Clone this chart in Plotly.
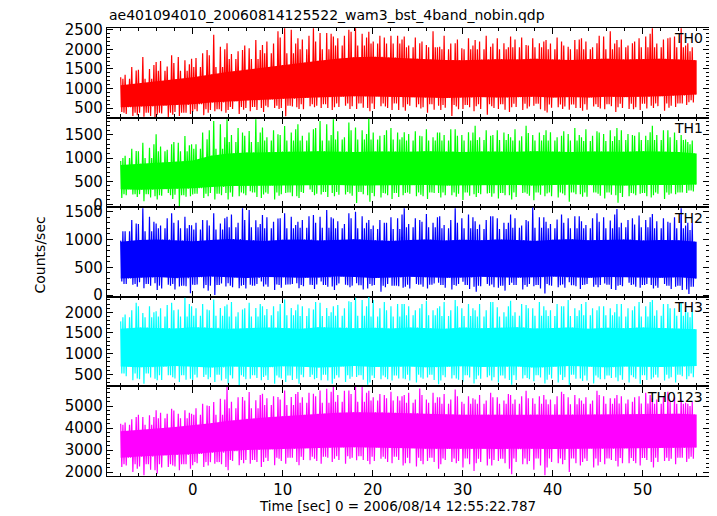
import numpy as np
import plotly.graph_objects as go
from plotly.subplots import make_subplots

TITLE = "ae401094010_20060814125522_wam3_bst_4band_nobin.qdp"
X_TITLE = "Time [sec] 0 = 2006/08/14 12:55:22.787"
Y_TITLE = "Counts/sec"
BANDS = ["TH0", "TH1", "TH2", "TH3", "TH0123"]
COLORS = ["#ff0000", "#00ff00", "#0000ff", "#00ffff", "#ff00ff"]

# time grids (sec): 65 one-second bins from -8 to 56, 2-s core bins, 4-s fringe bins
T_START, T_END, N_BIN = -8.0, 56.0, 65
T_CORE = np.arange(-8, 57, 2)

# ---------------- TH0 ----------------
TH0_PEAK = [1285, 1460, 1805, 1500, 1675, 1850, 1805, 1720, 1760, 1980, 2370, 2065, 2155, 1980, 2025, 2240,
            2110, 2460, 2540, 2500, 2285, 2540, 2415, 2415, 2330, 2500, 2540,
            2400, 2450, 2300, 2350, 2350,
            2330, 2155, 2110, 2460, 2065, 2155, 2025, 2285, 2240, 2065, 2285, 2155, 2330, 2110, 2285, 2155,
            2240, 2200, 2065, 2240, 2285, 2155, 2330, 2460, 2240, 2155, 2285, 2330, 2540, 2285, 2330, 2540, 2155]
TH0_TROUGH = [400, 300, 280, 260, 330, 270, 300, 350, 400, 320, 420, 380, 450, 350, 420, 500, 400, 500, 290,
              520, 480, 550, 500, 450, 520, 560, 480,
              500, 420, 550, 450, 520,
              430, 520, 380, 560, 450, 300, 480, 420, 550, 330, 480, 400, 520, 450, 560, 430, 390, 520, 460,
              500, 430, 540, 470, 400, 520, 480, 450, 560, 500, 430, 530, 580, 650]
TH0_SUB_HI = [1350, 1550, 1480, 1600, 1700, 1560, 1650, 1620,
              1780, 1900, 1850, 2000, 1880, 1950, 2100, 1980, 2200, 2150,
              2300, 2150, 2250, 2350, 2200, 2400, 2280, 2350, 2450, 2300,
              2200, 2350, 2150, 2250, 2100, 2300, 2200, 2050, 2350, 2150,
              2250, 2100, 2200, 2350, 2150, 2050, 2250, 2300, 2100, 2200,
              2150, 2300, 2100, 2250, 2200, 2050, 2350, 2150, 2250, 2100,
              2200, 2400, 2150, 2250, 2300, 2100, 2050]
TH0_SUB_LO = [350, 320, 380, 300, 360, 330, 400, 380,
              420, 380, 450, 420, 480, 460, 500, 450, 520, 480,
              500, 540, 470, 520, 560, 500, 530, 480, 550, 510,
              480, 540, 500, 450, 560, 490, 520, 460, 510, 540,
              470, 520, 480, 550, 500, 460, 530, 490, 540, 470,
              510, 480, 540, 500, 460, 530, 490, 550, 500, 470,
              520, 490, 550, 510, 560, 620, 640]
TH0_CORE_LO = [520, 540, 560, 580, 600, 640, 670, 700, 720, 740, 760, 780, 790, 800, 800, 790, 780, 770, 760,
               770, 780, 770, 780, 790, 770, 780, 770, 790, 780, 790, 800, 820, 850]
TH0_CORE_HI = [1080, 1130, 1180, 1230, 1290, 1360, 1430, 1480, 1540, 1600, 1660, 1710, 1760, 1800, 1810, 1790,
               1760, 1740, 1730, 1720, 1740, 1750, 1740, 1760, 1740, 1730, 1750, 1760, 1740, 1750, 1760, 1740, 1720]
TH0_FR_LO = [380, 380, 470, 530, 560, 600, 620, 620, 600, 580, 600, 610, 590, 600, 610, 620, 700]
TH0_FR_HI = [1250, 1450, 1550, 1750, 1900, 2000, 2100, 2150, 2050, 2000, 2000, 2050, 2000, 2000, 2050, 2050, 1950]

# ---------------- TH1 ----------------
TH1_PEAK = [936, 1152, 1333, 1225, 1513, 1297, 1333, 1477, 1297, 1405, 1800, 1730, 1838, 1550, 1585, 1838,
            1658, 1513, 1694, 1550, 1730, 1622, 1800, 1730, 1838, 1766, 1658,
            1600, 1850, 1500, 1650, 1550,
            1560, 1480, 1620, 1450, 1550, 1620, 1500, 1560, 1700, 1480, 1600, 1550, 1450, 1700, 1500, 1550,
            1600, 1480, 1520, 1650, 1450, 1580, 1520, 1600, 1650, 1500, 1560, 1480, 1700, 1600, 1550, 1500, 1350]
TH1_TROUGH = [142, 215, 70, 178, 106, 250, -30, 178, 215, 142, 106, 250, 106, 178, 287, 142, 215, 106, 250,
              178, 142, 323, 215, 250, 178, 215, 35,
              200, 60, 150, 120, 200,
              250, 180, 120, 250, 150, 200, 100, 220, 160, 240, 130, 200, 110, 250, 90, 180, 240, 150, 60,
              220, 170, 260, 130, 200, 40, 180, 230, 150, 200, 120, 220, 250, 300]
TH1_SUB_HI = [1050, 1200, 1150, 1300, 1250, 1180, 1350, 1280,
              1300, 1550, 1600, 1450, 1500, 1650, 1480, 1550, 1450, 1600,
              1500, 1620, 1480, 1550, 1650, 1500, 1580, 1450, 1600, 1520,
              1550, 1480, 1600, 1450, 1520, 1580, 1470, 1550, 1500, 1620,
              1480, 1550, 1450, 1600, 1500, 1520, 1620, 1470, 1540, 1500,
              1560, 1450, 1580, 1500, 1620, 1480, 1550, 1470, 1600, 1520,
              1480, 1560, 1500, 1600, 1450, 1400, 1380]
TH1_SUB_LO = [200, 160, 220, 150, 190, 120, 210, 170,
              230, 180, 250, 200, 170, 240, 200, 160, 230, 190,
              220, 180, 250, 200, 230, 160, 210, 240, 190, 220,
              180, 240, 200, 160, 230, 210, 180, 250, 200, 170,
              230, 190, 220, 170, 240, 200, 160, 230, 190, 210,
              180, 240, 200, 220, 170, 230, 190, 210, 160, 240,
              200, 180, 230, 210, 240, 260, 280]
TH1_CORE_LO = [330, 320, 330, 340, 350, 380, 400, 410, 410, 420, 420, 415, 420, 410, 420, 425, 415, 420, 410,
               420, 425, 415, 420, 410, 420, 425, 415, 420, 410, 420, 425, 420, 430]
TH1_CORE_HI = [850, 880, 900, 920, 950, 1050, 1100, 1120, 1130, 1140, 1135, 1150, 1140, 1130, 1145, 1140, 1135,
               1150, 1140, 1130, 1145, 1140, 1135, 1150, 1140, 1130, 1145, 1140, 1135, 1150, 1140, 1130, 1100]
TH1_FR_LO = [220, 200, 230, 260, 260, 270, 270, 250, 260, 260, 250, 260, 260, 260, 250, 260, 300]
TH1_FR_HI = [1000, 1150, 1200, 1350, 1380, 1380, 1400, 1400, 1380, 1380, 1390, 1380, 1380, 1370, 1390, 1390, 1300]

# ---------------- TH2 ----------------
TH2_PEAK = [980, 1287, 1563, 1410, 1287, 1470, 1348, 1410, 1256, 1348, 1470, 1287, 1410, 1563, 1532, 1348,
            1440, 1379, 1470, 1410, 1318, 1440, 1410, 1532, 1379, 1470, 1501,
            1420, 1350, 1300, 1400, 1380,
            1560, 1350, 1460, 1300, 1420, 1560, 1380, 1450, 1330, 1420, 1380, 1300, 1450, 1350, 1580, 1400,
            1320, 1450, 1380, 1420, 1330, 1470, 1400, 1340, 1550, 1380, 1430, 1350, 1460, 1320, 1400, 1560, 1300]
TH2_TROUGH = [245, 184, 123, 215, 92, 184, 153, 31, 184, 123, 0, 153, 215, 123, 184, 245, 153, 92, 184, 215,
              123, 184, 245, 153, 92, 184, 215,
              120, 200, 60, 170, 130,
              150, 200, 120, 220, 180, 100, 240, 150, 60, 200, 130, 180, 220, 100, 160, 30, 200, 140, 230,
              110, 180, 150, 210, 90, 170, 220, 130, 180, 120, 200, 150, 100, 20]
TH2_SUB_HI = [1150, 1350, 1280, 1320, 1250, 1380, 1300, 1260,
              1300, 1350, 1250, 1380, 1450, 1300, 1350, 1280, 1400, 1320,
              1380, 1260, 1350, 1420, 1300, 1400, 1330, 1280, 1380, 1300,
              1250, 1350, 1300, 1450, 1280, 1380, 1320, 1400, 1260, 1350,
              1300, 1400, 1270, 1350, 1420, 1300, 1380, 1250, 1330, 1400,
              1280, 1360, 1300, 1420, 1260, 1380, 1320, 1450, 1300, 1350,
              1270, 1400, 1330, 1380, 1300, 1250, 1300]
TH2_SUB_LO = [200, 150, 230, 170, 120, 200, 100, 160,
              190, 80, 170, 210, 140, 180, 120, 200, 150, 180,
              130, 200, 160, 110, 190, 150, 210, 140, 170, 100,
              180, 140, 200, 160, 120, 190, 150, 210, 130, 170,
              200, 110, 160, 190, 140, 80, 180, 150, 200, 120,
              170, 190, 130, 160, 200, 140, 180, 110, 160, 190,
              150, 200, 130, 170, 110, 90, 150]
TH2_CORE_LO = [300, 315, 325, 305, 320, 335, 318, 308, 326, 322, 312, 318, 334, 324, 306, 318, 330, 322, 312,
               316, 328, 320, 314, 322, 332, 318, 310, 324, 330, 318, 312, 320, 300]
TH2_CORE_HI = [960, 990, 1000, 980, 970, 990, 1010, 985, 975, 995, 1000, 980, 990, 1005, 985, 975, 990, 1000,
               980, 995, 985, 1000, 990, 975, 995, 1005, 985, 990, 1000, 980, 990, 985, 960]
TH2_FR_LO = [200, 170, 180, 170, 190, 180, 175, 170, 185, 180, 170, 180, 175, 185, 180, 170, 150]
TH2_FR_HI = [1150, 1200, 1180, 1220, 1200, 1210, 1200, 1190, 1220, 1200, 1190, 1210, 1200, 1200, 1220, 1200, 1170]

# ---------------- TH3 ----------------
TH3_PEAK = [1781, 2229, 1985, 2148, 2025, 2229, 2066, 2352, 2148, 2066, 2311, 2107, 2188, 2066, 2229, 2107,
            2148, 2025, 2311, 2107, 2188, 2066, 2229, 2107, 2148, 2270, 2352,
            2300, 2370, 2250, 2150, 2200,
            2200, 2100, 2280, 2050, 2150, 2300, 2100, 2200, 2050, 2250, 2120, 2000, 2280, 2180, 2100, 2250,
            2050, 2150, 2300, 2100, 2200, 2050, 2150, 2100, 2200, 2050, 2250, 2150, 2300, 2200, 2100, 2250, 2000]
TH3_TROUGH = [517, 354, 273, 395, 354, 477, 314, 395, 354, 436, 314, 395, 273, 232, 395, 354, 436, 273, 314,
              395, 273, 436, 354, 273, 395, 314, 436,
              250, 300, 380, 350, 400,
              380, 300, 420, 260, 350, 400, 320, 280, 380, 430, 300, 360, 250, 400, 330, 280, 370, 300, 250,
              400, 340, 280, 380, 420, 330, 300, 270, 380, 420, 350, 300, 380, 450]
TH3_SUB_HI = [1950, 2050, 2150, 2000, 2100, 2180, 2050, 2200,
              2100, 2200, 2050, 2150, 2250, 2000, 2100, 2200, 2080, 2150,
              2200, 2050, 2150, 2100, 2250, 2000, 2180, 2100, 2250, 2150,
              2300, 2100, 2050, 2200, 2150, 2050, 2200, 2100, 2250, 2050,
              2150, 2100, 2200, 2050, 2250, 2150, 2000, 2200, 2100, 2150,
              2050, 2200, 2150, 2050, 2250, 2100, 2150, 2000, 2200, 2100,
              2150, 2250, 2050, 2200, 2100, 2050, 2100]
TH3_SUB_LO = [450, 400, 380, 420, 360, 430, 400, 370,
              420, 380, 430, 350, 400, 440, 380, 410, 360, 420,
              400, 360, 430, 380, 410, 350, 420, 390, 440, 370,
              410, 430, 380, 400, 350, 420, 390, 360, 430, 400,
              370, 420, 390, 350, 430, 400, 360, 410, 380, 420,
              400, 360, 430, 390, 350, 420, 380, 410, 370, 430,
              390, 360, 420, 400, 430, 450, 430]
TH3_CORE_LO = [690, 670, 680, 700, 675, 665, 690, 685, 670, 695, 680, 665, 690, 700, 675, 680, 690, 670, 685,
               695, 675, 680, 690, 665, 685, 700, 680, 670, 690, 685, 675, 690, 700]
TH3_CORE_HI = [1600, 1630, 1620, 1610, 1640, 1625, 1600, 1615, 1635, 1620, 1605, 1640, 1630, 1615, 1625, 1610,
               1635, 1620, 1600, 1630, 1615, 1625, 1640, 1610, 1620, 1635, 1605, 1625, 1615, 1630, 1620, 1610, 1590]
TH3_FR_LO = [520, 480, 490, 480, 470, 490, 480, 470, 490, 480, 470, 480, 490, 470, 480, 490, 520]
TH3_FR_HI = [1880, 1900, 1920, 1900, 1930, 1910, 1920, 1900, 1930, 1910, 1900, 1920, 1910, 1930, 1900, 1920, 1880]

# ---------------- TH0123 ----------------
TH0123_PEAK = [4200, 4500, 4500, 4577, 4804, 4880, 4652, 4804, 4652, 5031, 5183, 5334, 5865, 5410, 5637, 5259,
               5562, 5410, 5713, 5410, 5637, 5562, 5713, 5790, 5865, 5713, 5865,
               5865, 5700, 5500, 5650, 5450,
               5500, 5800, 5300, 5600, 5400, 5750, 5200, 5450, 5300, 5600, 5400, 5250, 5500, 5700, 5350, 5450,
               5300, 5650, 5400, 5500, 5250, 5700, 5450, 5350, 5500, 5200, 5450, 5600, 5350, 5650, 5400, 5300, 5100]
TH0123_TROUGH = [2230, 2000, 1850, 2077, 1925, 2230, 2077, 2153, 2304, 2230, 2380, 2230, 2077, 2304, 2380, 2230,
                 2456, 2304, 2380, 2456, 2304, 2532, 2380, 2456, 2608, 2380, 2532,
                 2500, 2350, 2600, 2400, 2300,
                 2400, 2250, 2500, 2150, 2350, 2450, 2200, 2050, 2400, 2300, 2500, 2150, 1900, 2350, 2100, 1850,
                 2200, 2400, 2000, 2300, 2450, 2200, 2350, 2500, 2250, 2400, 2300, 2450, 2200, 2500, 2350, 2450, 2600]
TH0123_SUB_HI = [4250, 4400, 4600, 4500, 4700, 4650, 4800, 4700,
                 4900, 5100, 5000, 5300, 5200, 5400, 5250, 5500, 5350, 5450,
                 5300, 5550, 5400, 5600, 5450, 5650, 5500, 5700, 5550, 5600,
                 5400, 5550, 5350, 5450, 5600, 5300, 5500, 5400, 5550, 5300,
                 5450, 5350, 5500, 5250, 5400, 5550, 5300, 5450, 5350, 5500,
                 5300, 5450, 5550, 5350, 5400, 5250, 5500, 5350, 5450, 5300,
                 5400, 5500, 5300, 5450, 5200, 5150, 5200]
TH0123_SUB_LO = [2300, 2150, 2250, 2100, 2200, 2300, 2250, 2350,
                 2400, 2300, 2450, 2350, 2500, 2400, 2550, 2450, 2500, 2600,
                 2500, 2650, 2550, 2600, 2500, 2650, 2550, 2600, 2650, 2550,
                 2500, 2600, 2450, 2550, 2400, 2500, 2350, 2450, 2550, 2400,
                 2500, 2350, 2450, 2300, 2550, 2400, 2450, 2350, 2500, 2300,
                 2450, 2350, 2550, 2400, 2500, 2300, 2450, 2550, 2400, 2500,
                 2400, 2550, 2450, 2500, 2600, 2650, 2600]
TH0123_CORE_LO = [2650, 2700, 2750, 2780, 2820, 2880, 2950, 3000, 3030, 3060, 3080, 3100, 3120, 3130, 3120, 3100,
                  3080, 3060, 3050, 3050, 3060, 3050, 3040, 3060, 3050, 3060, 3070, 3060, 3070, 3080, 3090, 3100, 3120]
TH0123_CORE_HI = [3850, 3900, 3980, 4050, 4120, 4220, 4330, 4420, 4480, 4540, 4600, 4650, 4700, 4720, 4720, 4700,
                  4670, 4640, 4620, 4600, 4610, 4600, 4590, 4610, 4600, 4610, 4620, 4610, 4620, 4630, 4640, 4650, 4620]
TH0123_FR_LO = [2350, 2350, 2450, 2550, 2650, 2700, 2720, 2700, 2650, 2620, 2600, 2620, 2610, 2620, 2640, 2650, 2700]
TH0123_FR_HI = [4150, 4450, 4600, 4900, 5050, 5150, 5200, 5250, 5150, 5100, 5100, 5100, 5080, 5100, 5120, 5100, 5000]

# axis settings per panel
Y_RANGES = [[257, 2545], [-58, 1874], [-31, 1581], [207, 2376], [1818, 5895]]
Y_DTICK = [500, 500, 500, 500, 1000]
Y_MINOR = [100, 100, 100, 100, 200]
X_RANGE = [-9.52, 57.37]

PANELS = [
    (TH0_PEAK, TH0_TROUGH, TH0_SUB_HI, TH0_SUB_LO, TH0_CORE_LO, TH0_CORE_HI, TH0_FR_LO, TH0_FR_HI),
    (TH1_PEAK, TH1_TROUGH, TH1_SUB_HI, TH1_SUB_LO, TH1_CORE_LO, TH1_CORE_HI, TH1_FR_LO, TH1_FR_HI),
    (TH2_PEAK, TH2_TROUGH, TH2_SUB_HI, TH2_SUB_LO, TH2_CORE_LO, TH2_CORE_HI, TH2_FR_LO, TH2_FR_HI),
    (TH3_PEAK, TH3_TROUGH, TH3_SUB_HI, TH3_SUB_LO, TH3_CORE_LO, TH3_CORE_HI, TH3_FR_LO, TH3_FR_HI),
    (TH0123_PEAK, TH0123_TROUGH, TH0123_SUB_HI, TH0123_SUB_LO, TH0123_CORE_LO, TH0123_CORE_HI,
     TH0123_FR_LO, TH0123_FR_HI),
]


def light_curve(peak, trough, sub_hi, sub_lo, core_lo, core_hi, fr_lo, fr_hi):
    """Path through the sampled highs/lows of every 1-s bin (8 samples per bin)."""
    width = (T_END - T_START) / N_BIN
    xs, ys = [], []
    for k in range(N_BIN):
        t0 = T_START + k * width
        c, f = k // 2, k // 4
        highs = [peak[k], fr_hi[f], sub_hi[k], core_hi[c]]
        lows = [core_lo[c], trough[k], fr_lo[f], sub_lo[k]]
        rh, rl = k % 4, (3 * k + 1) % 4
        highs = highs[rh:] + highs[:rh]
        lows = lows[rl:] + lows[:rl]
        for j in range(4):
            xs += [t0 + (2 * j) * width / 8, t0 + (2 * j + 1) * width / 8]
            ys += [highs[j], lows[j]]
    return np.array(xs), np.array(ys)


fig = make_subplots(rows=5, cols=1, shared_xaxes=True, vertical_spacing=0)

for i, (peak, trough, shi, slo, clo, chi, flo, fhi) in enumerate(PANELS):
    row = i + 1
    col = COLORS[i]
    # densest part of the band (where the samples overlap)
    fig.add_trace(go.Scatter(
        x=np.concatenate([T_CORE, T_CORE[::-1]]),
        y=np.concatenate([np.array(chi), np.array(clo)[::-1]]),
        fill="toself", fillcolor=col, line=dict(width=0),
        mode="lines", hoverinfo="skip", showlegend=False), row=row, col=1)
    xs, ys = light_curve(peak, trough, shi, slo, clo, chi, flo, fhi)
    fig.add_trace(go.Scatter(
        x=xs, y=ys, mode="lines", line=dict(color=col, width=1.2),
        hoverinfo="skip", showlegend=False), row=row, col=1)

    fig.update_yaxes(row=row, col=1, range=Y_RANGES[i], tick0=0, dtick=Y_DTICK[i],
                     ticks="inside", ticklen=6, tickwidth=1, tickcolor="black",
                     minor=dict(dtick=Y_MINOR[i], ticks="inside", ticklen=3, tickcolor="black"),
                     showline=True, linecolor="black", linewidth=1.3, mirror="ticks",
                     showgrid=False, zeroline=False, automargin=False,
                     tickfont=dict(family="DejaVu Sans", size=15, color="black"))
    fig.update_xaxes(row=row, col=1, range=X_RANGE, tick0=0, dtick=10,
                     ticks="inside", ticklen=6, tickwidth=1, tickcolor="black",
                     minor=dict(dtick=2, ticks="inside", ticklen=3, tickcolor="black"),
                     showline=True, linecolor="black", linewidth=1.3, mirror="ticks",
                     showgrid=False, zeroline=False, automargin=False,
                     tickfont=dict(family="DejaVu Sans", size=15, color="black"))

    yref = "y domain" if row == 1 else f"y{row} domain"
    fig.add_annotation(text=BANDS[i], xref="paper", yref=yref, x=0.9934, y=0.885,
                       xanchor="right", yanchor="middle", showarrow=False,
                       font=dict(family="DejaVu Sans", size=14, color="black"))

fig.add_annotation(text=TITLE, xref="paper", yref="paper", x=0.0, y=1.03,
                   xanchor="left", yanchor="middle", showarrow=False,
                   font=dict(family="DejaVu Sans", size=14, color="black"))
fig.add_annotation(text=Y_TITLE, xref="paper", yref="paper", x=-0.1105, y=0.4933,
                   xanchor="center", yanchor="middle", textangle=-90, showarrow=False,
                   font=dict(family="DejaVu Sans", size=14, color="black"))
fig.add_annotation(text=X_TITLE, xref="paper", yref="paper", x=0.4826, y=-0.067,
                   xanchor="center", yanchor="middle", showarrow=False,
                   font=dict(family="DejaVu Sans", size=13.5, color="black"))

# the page body adds an 8 px offset, so the figure is 8 px smaller than the window
fig.update_layout(width=709, height=508, margin=dict(l=99, r=8, t=20, b=40),
                  paper_bgcolor="white", plot_bgcolor="white", showlegend=False)

fig.write_html("out.html")
